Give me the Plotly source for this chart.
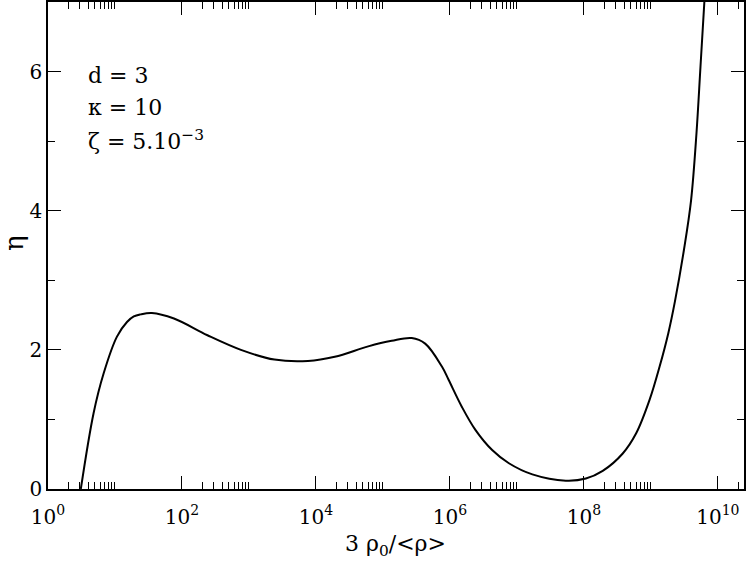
import plotly.graph_objects as go

# data (x = 3 rho0/<rho>, y = eta)
x_vals = [3.09, 4.79, 6.76, 10.7, 15.1, 19.1, 24.0, 35.5, 75.9, 240, 759, 2400,
          7590, 1.91e4, 6.03e4, 1.35e5, 2.69e5, 4.27e5, 7.59e5, 9.55e5,
          1.51e6, 2.40e6, 4.27e6, 7.59e6, 1.70e7, 5.37e7, 1.07e8, 1.91e8,
          3.80e8, 6.03e8, 9.55e8, 1.35e9, 1.82e9, 2.29e9, 3.13e9, 3.98e9,
          4.79e9, 5.50e9, 6.31e9]
eta_vals = [0.0, 1.09, 1.66, 2.19, 2.40, 2.48, 2.51, 2.53, 2.45, 2.21, 2.00, 1.86,
            1.84, 1.90, 2.05, 2.13, 2.17, 2.09, 1.76, 1.57,
            1.18, 0.85, 0.56, 0.37, 0.21, 0.12, 0.15, 0.26,
            0.51, 0.80, 1.28, 1.76, 2.24, 2.70, 3.45, 4.15,
            5.11, 6.07, 7.03]

x_major = [1, 1e2, 1e4, 1e6, 1e8, 1e10]
x_major_text = ["10<sup>0</sup>", "10<sup>2</sup>", "10<sup>4</sup>",
                "10<sup>6</sup>", "10<sup>8</sup>", "10<sup>10</sup>"]
x_minor = [m * d for d in [1, 1e2, 1e4, 1e6, 1e8, 1e10] for m in range(2, 11)]
y_major = [0, 2, 4, 6]
param_lines = ["d = 3", "κ = 10", "ζ = 5.10<sup>−3</sup>"]
x_title = "3 ρ<sub>0</sub>/&lt;ρ&gt;"
y_title = "η"

FONT = "DejaVu Serif"

fig = go.Figure()
fig.add_trace(go.Scatter(x=x_vals, y=eta_vals, mode="lines",
                         line=dict(color="black", width=2, shape="spline", smoothing=1.0),
                         showlegend=False, hoverinfo="skip"))

fig.update_layout(
    width=747, height=563,
    margin=dict(l=48, r=3, t=2, b=74),
    plot_bgcolor="white", paper_bgcolor="white",
    font=dict(family=FONT, color="black", size=20),
)
fig.update_xaxes(
    type="log", range=[0, 10.39], automargin=False,
    tickmode="array", tickvals=x_major, ticktext=x_major_text,
    ticks="inside", ticklen=13, tickwidth=1.2, tickcolor="black",
    ticklabelstandoff=9,
    minor=dict(tickmode="array", tickvals=x_minor, ticks="inside", ticklen=7,
               tickwidth=1.2, tickcolor="black", showgrid=False),
    showline=True, linecolor="black", linewidth=1.5, mirror="allticks",
    showgrid=False, zeroline=False,
    tickfont=dict(family=FONT, size=20),
)
fig.update_yaxes(
    range=[0, 7], automargin=False,
    tickmode="array", tickvals=y_major,
    ticks="inside", ticklen=13, tickwidth=1.2, tickcolor="black",
    minor=dict(dtick=1, ticks="inside", ticklen=7, tickwidth=1.2,
               tickcolor="black", showgrid=False),
    showline=True, linecolor="black", linewidth=1.5, mirror="allticks",
    showgrid=False, zeroline=False,
    tickfont=dict(family=FONT, size=20),
)

# axis titles as annotations (placed like the reference)
fig.add_annotation(xref="paper", yref="paper", x=0.4986, y=-0.116,
                   xanchor="center", yanchor="middle", text=x_title, showarrow=False,
                   font=dict(family=FONT, size=22, color="black"))
fig.add_annotation(xref="paper", yref="paper", x=-0.049, y=0.505,
                   xanchor="center", yanchor="middle", text=y_title, showarrow=False,
                   textangle=-90, font=dict(family=FONT, size=26, color="black"))

# parameter block
for line, ypos in zip(param_lines, [0.850, 0.784, 0.717]):
    fig.add_annotation(xref="paper", yref="paper", x=0.0546, y=ypos,
                       xanchor="left", yanchor="middle", text=line, showarrow=False,
                       align="left", font=dict(family=FONT, size=22, color="black"))

fig.write_html("out.html", config={"displayModeBar": False},
               post_script="document.body.style.margin='0';document.body.style.overflow='hidden';")
